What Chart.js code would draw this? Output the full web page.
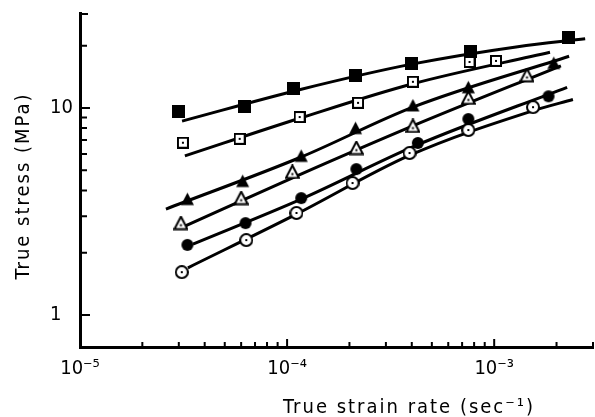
<!DOCTYPE html>
<html>
<head>
<meta charset="utf-8">
<script src="https://cdn.jsdelivr.net/npm/chart.js@4.4.1/dist/chart.umd.min.js"></script>
<style>
  html, body { margin: 0; padding: 0; background: #fff; }
  #wrap { width: 595px; height: 417px; }
</style>
</head>
<body>
<div id="wrap"><canvas id="grafico"></canvas></div>
<script>
// measured points (strain rate in 1/s, stress in MPa)
const rateFilledSq = [3.0e-5, 6.2e-5, 1.07e-4, 2.13e-4, 3.97e-4, 7.66e-4, 2.28e-3];
const stressFilledSq = [9.6, 10.2, 12.4, 14.3, 16.5, 18.8, 22.0];
const rateOpenSq = [3.14e-5, 5.9e-5, 1.15e-4, 2.2e-4, 4.05e-4, 7.6e-4, 1.02e-3];
const stressOpenSq = [6.8, 7.1, 9.05, 10.6, 13.4, 16.7, 16.9];
const rateFilledTri = [3.3e-5, 6.1e-5, 1.17e-4, 2.14e-4, 4.05e-4, 7.5e-4, 1.94e-3];
const stressFilledTri = [3.63, 4.44, 5.87, 8.0, 10.3, 12.6, 16.5];
const rateOpenTri = [3.07e-5, 6.0e-5, 1.06e-4, 2.16e-4, 4.05e-4, 7.5e-4, 1.44e-3];
const stressOpenTri = [2.78, 3.67, 4.91, 6.41, 8.19, 11.2, 14.4];
const rateFilledCirc = [3.3e-5, 6.3e-5, 1.17e-4, 2.16e-4, 4.28e-4, 7.5e-4, 1.83e-3];
const stressFilledCirc = [2.18, 2.78, 3.67, 5.07, 6.78, 8.85, 11.4];
const rateOpenCirc = [3.1e-5, 6.35e-5, 1.11e-4, 2.07e-4, 3.9e-4, 7.5e-4, 1.54e-3];
const stressOpenCirc = [1.61, 2.30, 3.11, 4.34, 6.06, 7.83, 10.1];

// fitted curves
const fit1Rate = [3.11e-5, 1.16e-4, 4.0e-4, 1.3e-3, 2.75e-3];
const fit1Stress = [8.65, 12.3, 16.3, 19.8, 21.6];
const fit2Rate = [3.21e-5, 1.16e-4, 4.05e-4, 1.86e-3];
const fit2Stress = [5.87, 8.95, 13.1, 18.6];
const fit3Rate = [2.6e-5, 1.17e-4, 4.05e-4, 2.3e-3];
const fit3Stress = [3.25, 5.8, 10.1, 17.8];
const fit4Rate = [3.21e-5, 1.11e-4, 4.05e-4, 2.1e-3];
const fit4Stress = [2.69, 4.69, 8.2, 16.0];
const fit5Rate = [3.51e-5, 1.17e-4, 4.28e-4, 2.25e-3];
const fit5Stress = [2.20, 3.63, 6.65, 12.6];
const fit6Rate = [3.32e-5, 1.11e-4, 3.9e-4, 1.54e-3, 2.4e-3];
const fit6Stress = [1.69, 3.07, 5.9, 9.7, 11.0];

// ticks
const xTicks = [1e-5, 2e-5, 3e-5, 4e-5, 5e-5, 6e-5, 7e-5, 8e-5, 9e-5,
  1e-4, 2e-4, 3e-4, 4e-4, 5e-4, 6e-4, 7e-4, 8e-4, 9e-4, 1e-3, 2e-3, 3e-3];
const xLabelVals = [1e-5, 1e-4, 1e-3];
const xLabelText = ['10⁻⁵', '10⁻⁴', '10⁻³'];
const yTicks = [1, 2, 3, 4, 5, 6, 7, 8, 9, 10, 20];
const yLabelVals = [1, 10];
const yLabelText = ['1', '10'];

const pts = (xs, ys) => xs.map((x, i) => ({ x: x, y: ys[i] }));
const findLabel = (vals, v) => vals.findIndex(l => Math.abs(Math.log10(l) - Math.log10(v)) < 1e-6);

function marker(shape, filled, size) {
  const c = document.createElement('canvas');
  c.width = size; c.height = size;
  const g = c.getContext('2d');
  const m = size / 2;
  g.fillStyle = '#000';
  g.strokeStyle = '#000';
  g.lineWidth = 2;
  g.beginPath();
  let dotY = m;
  if (shape === 'square') {
    if (filled) g.rect(0, 0, size, size); else g.rect(1, 1, size - 2, size - 2);
  } else if (shape === 'triangle') {
    g.moveTo(m, 1); g.lineTo(size - 1, size - 1.5); g.lineTo(1, size - 1.5); g.closePath();
    dotY = size * 0.64;
  } else {
    g.arc(m, m, m - 1, 0, Math.PI * 2);
  }
  if (filled) {
    g.fill();
  } else {
    g.fillStyle = '#fff';
    g.fill();
    g.stroke();
    g.fillStyle = '#000';
    g.fillRect(m - 1, dotY - 1, 2, 2);
  }
  return c;
}

const markerSet = (data, style) => ({
  data: data, showLine: false, pointStyle: style, pointRadius: 7, order: 0
});
const fitSet = (data) => ({
  data: data, showLine: true, borderColor: '#000', borderWidth: 3,
  pointRadius: 0, cubicInterpolationMode: 'monotone', order: 1
});

const noPad = s => { s.paddingTop = 0; s.paddingBottom = 0; s.paddingLeft = 0; s.paddingRight = 0; };

const axisDecor = {
  id: 'axisDecor',
  afterDraw(chart) {
    const { ctx, chartArea: a, scales: { x, y } } = chart;
    ctx.save();
    ctx.strokeStyle = '#000';
    ctx.lineWidth = 2;
    ctx.beginPath();
    y.ticks.forEach(t => {
      const py = y.getPixelForValue(t.value);
      const len = findLabel(yLabelVals, t.value) >= 0 ? 10 : 7;
      ctx.moveTo(a.left, py); ctx.lineTo(a.left + len, py);
    });
    x.ticks.forEach(t => {
      const px = x.getPixelForValue(t.value);
      const len = findLabel(xLabelVals, t.value) >= 0 ? 8 : 5;
      ctx.moveTo(px, a.bottom); ctx.lineTo(px, a.bottom - len);
    });
    ctx.moveTo(a.left, a.top + 1); ctx.lineTo(a.left + 8, a.top + 1);
    ctx.stroke();

    ctx.fillStyle = '#000';
    ctx.font = '20px "DejaVu Sans Condensed", "DejaVu Sans", sans-serif';
    ctx.letterSpacing = '2px';
    ctx.textAlign = 'center';
    ctx.textBaseline = 'alphabetic';
    ctx.fillText('True strain rate (sec⁻¹)', 409, 413);
    ctx.translate(29, 186);
    ctx.rotate(-Math.PI / 2);
    ctx.fillText('True stress (MPa)', 0, 0);
    ctx.restore();
  }
};

new Chart(document.getElementById('grafico'), {
  type: 'scatter',
  data: {
    datasets: [
      fitSet(pts(fit1Rate, fit1Stress)),
      fitSet(pts(fit2Rate, fit2Stress)),
      fitSet(pts(fit3Rate, fit3Stress)),
      fitSet(pts(fit4Rate, fit4Stress)),
      fitSet(pts(fit5Rate, fit5Stress)),
      fitSet(pts(fit6Rate, fit6Stress)),
      markerSet(pts(rateFilledSq, stressFilledSq), marker('square', true, 13)),
      markerSet(pts(rateOpenSq, stressOpenSq), marker('square', false, 12)),
      markerSet(pts(rateFilledTri, stressFilledTri), marker('triangle', true, 15)),
      markerSet(pts(rateOpenTri, stressOpenTri), marker('triangle', false, 15)),
      markerSet(pts(rateFilledCirc, stressFilledCirc), marker('circle', true, 14)),
      markerSet(pts(rateOpenCirc, stressOpenCirc), marker('circle', false, 14))
    ]
  },
  options: {
    responsive: true,
    maintainAspectRatio: false,
    animation: false,
    layout: { autoPadding: false, padding: { top: 13, right: 2, left: 50, bottom: 0 } },
    plugins: { legend: { display: false }, tooltip: { enabled: false } },
    scales: {
      x: {
        type: 'logarithmic',
        min: 1e-5,
        max: 3e-3,
        afterBuildTicks: s => { s.ticks = xTicks.map(v => ({ value: v })); },
        afterFit: s => { s.height = 70; noPad(s); },
        grid: { display: false, drawTicks: false },
        border: { display: true, color: '#000', width: 3 },
        ticks: {
          autoSkip: false,
          maxRotation: 0,
          padding: 10,
          color: '#000',
          font: { family: '"DejaVu Sans Condensed", "DejaVu Sans", sans-serif', size: 20 },
          callback: v => { const i = findLabel(xLabelVals, v); return i >= 0 ? xLabelText[i] : ''; }
        }
      },
      y: {
        type: 'logarithmic',
        min: 0.7,
        max: 28.8,
        afterBuildTicks: s => { s.ticks = yTicks.map(v => ({ value: v })); },
        afterFit: s => { s.width = 30; noPad(s); },
        grid: { display: false, drawTicks: false },
        border: { display: true, color: '#000', width: 3 },
        ticks: {
          autoSkip: false,
          crossAlign: 'far',
          padding: 12,
          color: '#000',
          font: { family: '"DejaVu Sans Condensed", "DejaVu Sans", sans-serif', size: 20 },
          callback: v => { const i = findLabel(yLabelVals, v); return i >= 0 ? yLabelText[i] : ''; }
        }
      }
    }
  },
  plugins: [axisDecor]
});
</script>
</body>
</html>
